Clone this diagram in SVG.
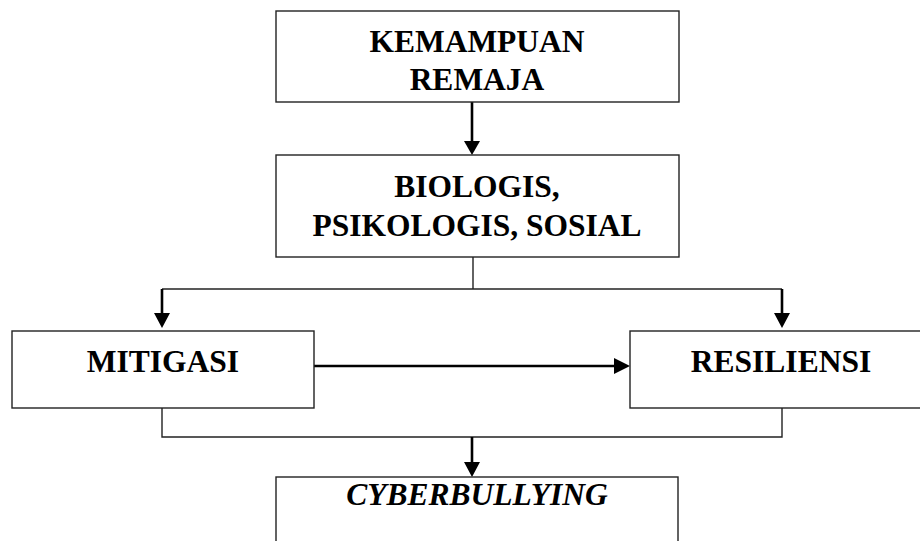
<svg xmlns="http://www.w3.org/2000/svg" width="920" height="541" viewBox="0 0 920 541">
<style>
.box{fill:#fff;stroke:#222;stroke-width:1.4}
.t{font-family:"Liberation Serif","Times New Roman",serif;font-weight:bold;font-size:31.5px;fill:#000;text-anchor:middle}
.thin{fill:none;stroke:#222;stroke-width:1.4}
.thick{fill:none;stroke:#000;stroke-width:2.6}
.head{fill:#000}
</style>
<rect width="920" height="541" fill="#fff"/>
<g id="connectors">
<line class="thick" x1="472" y1="102" x2="472" y2="142"/>
<polygon class="head" points="464,141 480,141 472,155"/>
<polyline class="thin" points="473,257 473,289"/>
<polyline class="thin" points="162,289 782,289"/>
<line class="thick" x1="162" y1="289" x2="162" y2="314"/>
<polygon class="head" points="154,313 170,313 162,328"/>
<line class="thick" x1="782" y1="289" x2="782" y2="314"/>
<polygon class="head" points="774,313 790,313 782,328"/>
<line class="thick" x1="314" y1="366" x2="616" y2="366"/>
<polygon class="head" points="614,358 614,374 630,366"/>
<polyline class="thin" points="162,408 162,437 782,437 782,408"/>
<line class="thick" x1="472" y1="437" x2="472" y2="463"/>
<polygon class="head" points="464,462 480,462 472,477"/>
</g>
<g id="kemampuan">
<rect class="box" x="276" y="11" width="403" height="91"/>
<text class="t" x="477" y="52">KEMAMPUAN</text>
<text class="t" x="477" y="90">REMAJA</text>
</g>
<g id="biologis">
<rect class="box" x="276" y="155" width="403" height="102"/>
<text class="t" x="477" y="197">BIOLOGIS,</text>
<text class="t" x="477" y="236">PSIKOLOGIS, SOSIAL</text>
</g>
<g id="mitigasi">
<rect class="box" x="12" y="331" width="302" height="77"/>
<text class="t" x="163" y="372">MITIGASI</text>
</g>
<g id="resiliensi">
<rect class="box" x="630" y="331" width="300" height="77"/>
<text class="t" x="781" y="372">RESILIENSI</text>
</g>
<g id="cyberbullying">
<rect class="box" x="276" y="477" width="402" height="80"/>
<text class="t" x="477" y="505" font-style="italic">CYBERBULLYING</text>
</g>
</svg>
